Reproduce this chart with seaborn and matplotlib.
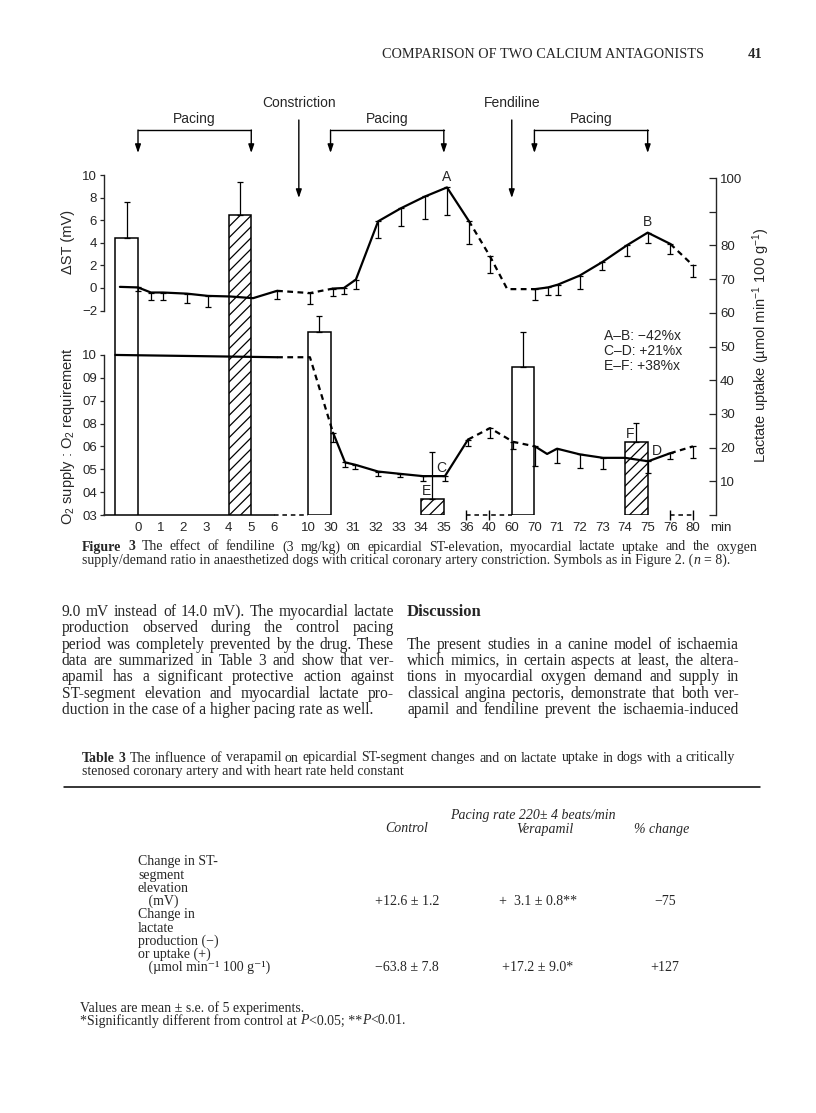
import numpy as np
import pandas as pd
import matplotlib
matplotlib.use("Agg")
import matplotlib.pyplot as plt
import matplotlib.transforms as mtransforms
from matplotlib.lines import Line2D
import seaborn as sns

W, H = 816, 1113
SANS = ['Liberation Sans', 'DejaVu Sans']
SERIF = ['Liberation Serif', 'DejaVu Serif']

# ---------------- data ----------------
# broken time axis (min); each label is one slot, half a slot extra after 6
time_labels = ['0', '1', '2', '3', '4', '5', '6', '10', '30', '31', '32', '33', '34',
               '35', '36', '40', '60', '70', '71', '72', '73', '74', '75', '76', '80']

# epicardial ST elevation (mV), x in axis slots, s.e. drawn downwards
st_pos = [-0.8, 0.0, 0.57, 1.1, 2.16, 3.09, 4.06, 5.08, 6.14, 7.59, 8.61, 9.09, 9.62,
          10.6, 11.6, 12.67, 13.64, 14.6, 15.54, 16.3, 17.53, 18.1, 18.54, 19.5, 20.5,
          21.6, 22.5, 23.5, 24.5]
st_mean = [0.1, 0.05, -0.4, -0.4, -0.5, -0.7, -0.75, -0.9, -0.25, -0.45, -0.05, 0.0, 0.75,
           5.9, 7.05, 8.1, 8.9, 5.95, 2.8, -0.1, -0.1, 0.05, 0.3, 1.1, 2.3,
           3.8, 4.9, 3.9, 2.0]
st_se = [0, 0.3, 0.7, 0.7, 0.8, 1.0, 0, 0, 0.75, 0.95, 0.65, 0.5, 0.85,
         1.5, 1.55, 2.0, 2.4, 2.05, 1.5, 0, 1.0, 0.65, 0.9, 1.2, 0.7,
         1.0, 0.95, 0.9, 1.05]
st_runs = [(0, 8, 'solid'), (8, 10, 'dash'), (10, 17, 'solid'),
           (17, 20, 'dash'), (20, 27, 'solid'), (27, 28, 'dash')]

# O2 supply : O2 requirement
o2_pos = [-1.0, 6.14, 7.59, 8.61, 9.14, 9.58, 10.6, 11.57, 12.58, 13.55, 14.57, 15.54,
          16.56, 17.53, 18.06, 18.5, 19.51, 20.53, 21.5, 22.52, 23.49, 24.5]
o2_mean = [1.0, 0.99, 0.99, 0.66, 0.53, 0.52, 0.49, 0.48, 0.47, 0.47, 0.63, 0.68,
           0.62, 0.60, 0.567, 0.59, 0.565, 0.55, 0.55, 0.535, 0.57, 0.60]
o2_se = [0, 0, 0, 0.04, 0.02, 0.02, 0.02, 0.015, 0.02, 0.02, 0.03, 0.045,
         0.03, 0.087, 0, 0.063, 0.058, 0.05, 0, 0.05, 0.025, 0.05]
o2_runs = [(0, 1, 'solid'), (1, 3, 'dash'), (3, 10, 'solid'),
           (10, 13, 'dash'), (13, 20, 'solid'), (20, 21, 'dash')]
o2_labels = ['10', '09', '07', '08', '06', '05', '04', '03']

# lactate uptake bars (white = control, hatched = during pacing/drug)
bar_left = [-1.0, 4.0, 7.5, 12.5, 16.5, 21.5]
bar_mean = [82.2, 89.0, 54.3, 4.7, 44.0, 21.8]
bar_se = [10.7, 9.7, 4.8, 14.0, 10.3, 5.4]
bar_hatched = [False, True, False, True, False, True]

# zero-uptake baseline pieces and their marks
zero_runs = [(None, '6', 'solid'), ('6', '10', 'dash'), ('36', '60', 'dash'), ('76', '80', 'dash')]
zero_marks = ['36', '40', '76', '80']

pacing = [('0', '5'), ('30', '35'), ('70', '75')]
events = [('Constriction', 7.1), ('Fendiline', 16.5)]
changes = ['A–B: −42%x', 'C–D: +21%x', 'E–F: +38%x']

# ---------------- page text ----------------
header = 'COMPARISON OF TWO CALCIUM ANTAGONISTS'
page_no = '41'
caption = ['The effect of fendiline (3 mg/kg) on epicardial ST-elevation, myocardial lactate uptake and the oxygen',
           'supply/demand ratio in anaesthetized dogs with critical coronary artery constriction. Symbols as in Figure 2. (']
left_col = ['9.0 mV instead of 14.0 mV). The myocardial lactate',
            'production observed during the control pacing',
            'period was completely prevented by the drug. These',
            'data are summarized in Table 3 and show that ver-',
            'apamil has a significant protective action against',
            'ST-segment elevation and myocardial lactate pro-',
            'duction in the case of a higher pacing rate as well.']
right_col = ['The present studies in a canine model of ischaemia',
             'which mimics, in certain aspects at least, the altera-',
             'tions in myocardial oxygen demand and supply in',
             'classical angina pectoris, demonstrate that both ver-',
             'apamil and fendiline prevent the ischaemia-induced']
table_caption = ['The influence of verapamil on epicardial ST-segment changes and on lactate uptake in dogs with a critically',
                 'stenosed coronary artery and with heart rate held constant']
row_labels = ['Change in ST-', 'segment', 'elevation', '   (mV)', 'Change in', 'lactate',
              'production (−)', 'or uptake (+)', '   (µmol min⁻¹ 100 g⁻¹)']
col_heads = ['Control', 'Verapamil', '% change']
row_st = ['+12.6 ± 1.2', '+  3.1 ± 0.8**', '−75']
row_lac = ['−63.8 ± 7.8', '+17.2 ± 9.0*', '+127']


def runs_frame(pos, mean, runs):
    rows = []
    for k, (i0, i1, sty) in enumerate(runs):
        for i in range(i0, i1 + 1):
            rows.append({'pos': pos[i], 'val': mean[i], 'seg': k, 'style': sty})
    return pd.DataFrame(rows)


def lower_errors(a, pos, mean, se):
    pos, mean, se = np.array(pos), np.array(mean), np.array(se)
    keep = se > 0
    a.errorbar(pos[keep], mean[keep], yerr=[se[keep], np.zeros(keep.sum())], fmt='none',
               ecolor='black', elinewidth=0.9, capsize=2.3, capthick=0.9, zorder=4)


sns.set_style('white')
plt.rcParams['font.family'] = SANS
plt.rcParams['mathtext.fontset'] = 'custom'
plt.rcParams['mathtext.rm'] = 'Liberation Sans'
plt.rcParams['mathtext.it'] = 'Liberation Sans:italic'
plt.rcParams['hatch.linewidth'] = 0.9
plt.rcParams['hatch.color'] = 'black'

fig = plt.figure(figsize=(W / 100, H / 100), dpi=100)
fig.patch.set_facecolor('white')
REND = fig.canvas.get_renderer()

ax = fig.add_axes([104 / W, 1 - 515 / H, 612 / W, 340 / H])
ax_st = ax.twinx()
ax_o2 = ax.twinx()
for a in (ax, ax_st, ax_o2):
    a.set_xlim(-1.501, 25.516)
    for s in a.spines.values():
        s.set_visible(False)
ax.set_ylim(0, 100.9)
ax_st.set_ylim(-20.09, 10.0)
ax_o2.set_ylim(0.3, 1.787)

slot = np.arange(len(time_labels)) + 0.5 * (np.arange(len(time_labels)) >= 7)
slot_of = dict(zip(time_labels, slot))

# bars
for left, m, hatched in zip(bar_left, bar_mean, bar_hatched):
    ax.bar(left, m, width=1, align='edge', facecolor='white', edgecolor='black',
           linewidth=1.1, hatch='///' if hatched else None, zorder=2)
ax.errorbar(np.array(bar_left) + 0.5, bar_mean, yerr=[np.zeros(len(bar_se)), bar_se],
            fmt='none', ecolor='black', elinewidth=0.9, capsize=2.5, capthick=0.9, zorder=3)

# zero baseline
for a0, b0, sty in zero_runs:
    x0 = ax.get_xlim()[0] if a0 is None else slot_of[a0]
    ax.plot([x0, slot_of[b0]], [0, 0], color='black', lw=1.1, clip_on=False, zorder=1,
            ls='-' if sty == 'solid' else (0, (3, 2.5)))
ax.plot([slot_of[k] for k in zero_marks], [0] * len(zero_marks), ls='none', marker='|',
        ms=7, mew=1.0, color='black', clip_on=False)

# lines
DASHES = {'solid': '', 'dash': (2.6, 2.0)}
sns.lineplot(data=runs_frame(st_pos, st_mean, st_runs), x='pos', y='val', units='seg',
             estimator=None, style='style', dashes=DASHES, color='black', linewidth=1.6,
             sort=False, legend=False, ax=ax_st)
lower_errors(ax_st, st_pos, st_mean, st_se)
sns.lineplot(data=runs_frame(o2_pos, o2_mean, o2_runs), x='pos', y='val', units='seg',
             estimator=None, style='style', dashes=DASHES, color='black', linewidth=1.6,
             sort=False, legend=False, ax=ax_o2)
lower_errors(ax_o2, o2_pos, o2_mean, o2_se)
for a in (ax_st, ax_o2):
    a.set_xlabel('')
    a.set_ylabel('')
    a.set_xlim(-1.501, 25.516)

# axes: x
ax.set_xticks(slot, time_labels)
ax.tick_params(axis='x', length=0, pad=5, labelsize=9.5)
ax.annotate('min', xy=(slot[-1], 0), xycoords=('data', 'axes fraction'), xytext=(20, -5),
            textcoords='offset points', ha='center', va='top', fontsize=9.5)
# right: lactate
ax.yaxis.tick_right()
ax.set_yticks(range(0, 101, 10), ['', '10', '20', '30', '40', '50', '60', '70', '80', '', '100'])
ax.tick_params(axis='y', direction='in', length=5, width=0.9, pad=3, labelsize=9.5,
               right=True, left=False, labelright=True, labelleft=False)
ax.spines['right'].set_visible(True)
ax.spines['right'].set_bounds(0, 100)
ax.spines['right'].set_linewidth(1.0)
# left: ST
ax_st.yaxis.tick_left()
ax_st.set_yticks([10, 8, 6, 4, 2, 0, -2], ['10', '8', '6', '4', '2', '0', '−2'])
ax_st.spines['left'].set_visible(True)
ax_st.spines['left'].set_bounds(-2, 10)
# left: O2 ratio
ax_o2.yaxis.tick_left()
ax_o2.set_yticks(np.linspace(1.0, 0.3, 8), o2_labels)
ax_o2.spines['left'].set_visible(True)
ax_o2.spines['left'].set_bounds(0.3, 1.0)
for a in (ax_st, ax_o2):
    a.spines['left'].set_linewidth(1.0)
    a.tick_params(axis='y', direction='out', length=3, width=0.9, pad=2, labelsize=9.5,
                  left=True, right=False, labelleft=True, labelright=False)

fig.text(68 / W, 1 - 242 / H, 'ΔST (mV)', rotation=90, ha='center', va='center', fontsize=10.5)
fig.text(68 / W, 1 - 436 / H, 'O$_2$ supply : O$_2$ requirement', rotation=90,
         ha='center', va='center', fontsize=10.5)
fig.text(761 / W, 1 - 345 / H, 'Lactate uptake (µmol min$^{-1}$ 100 g$^{-1}$)', rotation=90,
         ha='center', va='center', fontsize=10.5)

# point labels
ax_st.annotate('A', xy=(st_pos[16], st_mean[16]), xytext=(0, 7.5), textcoords='offset points',
               ha='center', va='center', fontsize=10)
ax_st.annotate('B', xy=(st_pos[26], st_mean[26]), xytext=(0, 7.5), textcoords='offset points',
               ha='center', va='center', fontsize=10)
ax_o2.annotate('C', xy=(o2_pos[9], o2_mean[9]), xytext=(-2.5, 5.5), textcoords='offset points',
               ha='center', va='center', fontsize=10)
ax_o2.annotate('D', xy=(o2_pos[19], o2_mean[19]), xytext=(6.5, 7.2), textcoords='offset points',
               ha='center', va='center', fontsize=10)
for lab, i in (('E', 3), ('F', 5)):
    ax.annotate(lab, xy=(bar_left[i], bar_mean[i]), xytext=(0.5, 0.5), textcoords='offset points',
                ha='left', va='bottom', fontsize=10)
ax.text(0.817, 0.548, '\n'.join(changes), transform=ax.transAxes, ha='left', va='top',
        fontsize=10, linespacing=1.1)

# protocol marks above the chart
trans = mtransforms.blended_transform_factory(ax.transData, fig.transFigure)
ARROW = dict(arrowstyle='-|>,head_length=0.5,head_width=0.17', color='black', lw=1.0,
             shrinkA=0, shrinkB=0, mutation_scale=10)
for a0, b0 in pacing:
    xa, xb = slot_of[a0], slot_of[b0]
    ax.plot([xa, xb], [1 - 130 / H] * 2, color='black', lw=1.0, transform=trans, clip_on=False)
    for xx in (xa, xb):
        ax.annotate('', xy=(xx, 1 - 153 / H), xytext=(xx, 1 - 130 / H), xycoords=trans,
                    textcoords=trans, arrowprops=ARROW, annotation_clip=False)
    ax.text((xa + xb) / 2, 1 - 119 / H, 'Pacing', transform=trans, ha='center', va='center',
            fontsize=10)
for name, xx in events:
    ax.annotate('', xy=(xx, 1 - 198 / H), xytext=(xx, 1 - 120 / H), xycoords=trans,
                textcoords=trans, arrowprops=ARROW, annotation_clip=False)
    ax.text(xx, 1 - 103 / H, name, transform=trans, ha='center', va='center', fontsize=10)


# ---------------- page typesetting ----------------
def text_width(s, size, **kw):
    t = fig.text(0, 0, s, fontsize=size, family=SERIF, **kw)
    w = t.get_window_extent(renderer=REND).width
    t.remove()
    return w


def page_line(y, runs, size, x0, x1=None):
    if x1 is None:
        sp = text_width('a a', size) - text_width('aa', size)
        x = x0
        for s, kw in runs:
            if s.startswith(' '):
                x += sp
            t = fig.text(x / W, 1 - y / H, s.strip(), fontsize=size, family=SERIF,
                         ha='left', va='center', **kw)
            x += t.get_window_extent(renderer=REND).width
            if s.endswith(' '):
                x += sp
        return
    words = [(w, kw) for s, kw in runs for w in s.split()]
    arts = [fig.text(0, 0, w, fontsize=size, family=SERIF, ha='left', va='center', **kw)
            for w, kw in words]
    widths = [t.get_window_extent(renderer=REND).width for t in arts]
    gap = (x1 - x0 - sum(widths)) / (len(arts) - 1)
    x = x0
    for t, w in zip(arts, widths):
        t.set_position((x / W, 1 - y / H))
        x += w + gap


N = {}
B = {'weight': 'bold'}
I = {'style': 'italic'}

fig.text(382 / W, 1 - 55 / H, header, family=SERIF, fontsize=10.3, ha='left', va='center')
fig.text(762 / W, 1 - 55 / H, page_no, family=SERIF, fontsize=10.5, weight='bold',
         ha='right', va='center')

page_line(547, [('Figure 3', B), (caption[0], N)], 10, 82, 757)
page_line(560.5, [(caption[1], N), ('n', I), (' = 8).', N)], 10, 82)

LEAD = 16.3
BODY = 11.2
for i, line in enumerate(left_col):
    page_line(612 + LEAD * i, [(line, N)], BODY, 62, None if i == len(left_col) - 1 else 394)
page_line(612, [('Discussion', B)], 12, 407)
for i, line in enumerate(right_col):
    page_line(612 + LEAD * (i + 2), [(line, N)], BODY, 407, 739)

# Table 3
page_line(758, [('Table 3', B), (table_caption[0], N)], 10, 82, 735)
page_line(772, [(table_caption[1], N)], 10, 82)
fig.add_artist(Line2D([64 / W, 760 / W], [1 - 787 / H] * 2, color='black', lw=1.1))

fig.text(533 / W, 1 - 815 / H, 'Pacing rate 220± 4 beats/min', family=SERIF, style='italic',
         fontsize=10, ha='center', va='center')
for xx, head in zip((407, 545, 662), col_heads):
    fig.text(xx / W, 1 - 829 / H, head, family=SERIF, style='italic', fontsize=10,
             ha='center', va='center')
ROW0, ROWH = 862, 13.2
for i, lab in enumerate(row_labels):
    fig.text(138 / W, 1 - (ROW0 + ROWH * i) / H, lab, family=SERIF, fontsize=10,
             ha='left', va='center')
for xx, a0, b0 in zip((407, 538, 665), row_st, row_lac):
    fig.text(xx / W, 1 - (ROW0 + ROWH * 3) / H, a0, family=SERIF, fontsize=10,
             ha='center', va='center')
    fig.text(xx / W, 1 - (ROW0 + ROWH * 8) / H, b0, family=SERIF, fontsize=10,
             ha='center', va='center')

page_line(1008, [('Values are mean ± s.e. of 5 experiments.', N)], 10, 80)
page_line(1021, [('*Significantly different from control at ', N), ('P', I), ('<0.05; **', N),
                 ('P', I), ('<0.01.', N)], 10, 80)

fig.savefig('out.png', dpi=100, facecolor='white')
